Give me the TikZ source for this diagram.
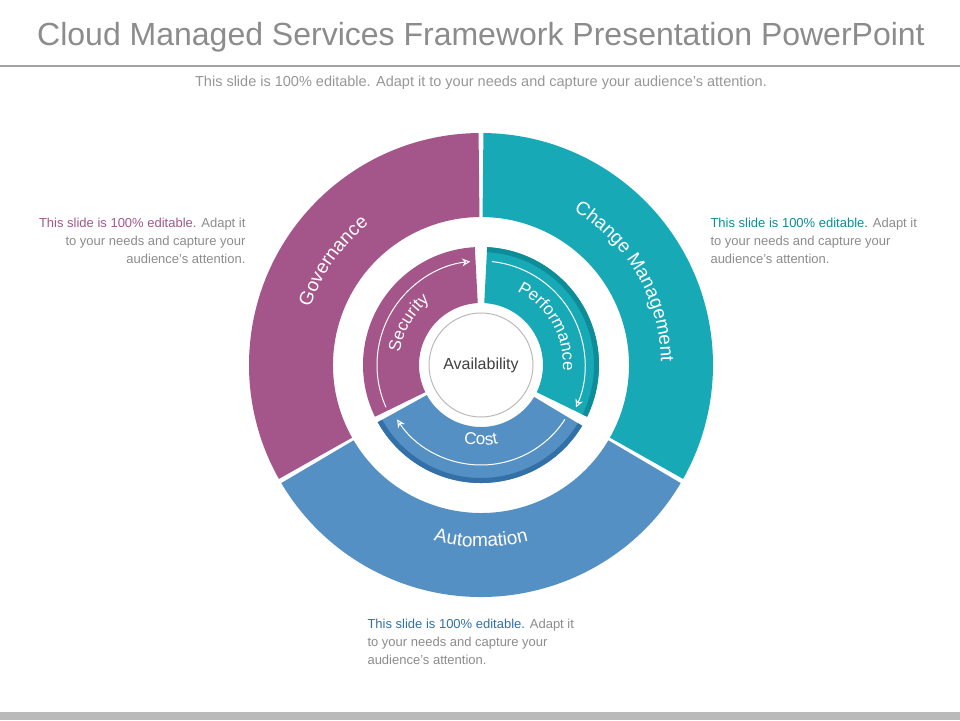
\documentclass[tikz,border=0pt]{standalone}
\usepackage{fontspec}
\setmainfont{Liberation Sans}
\usetikzlibrary{decorations.text, arrows.meta}
\definecolor{govc}{HTML}{A4568A}
\definecolor{chgc}{HTML}{17A9B6}
\definecolor{autc}{HTML}{5590C4}
\definecolor{govd}{HTML}{8E3F73}
\definecolor{chgd}{HTML}{0E8C98}
\definecolor{autd}{HTML}{3470A8}
\definecolor{txtc}{HTML}{8C8C8C}
\tikzset{
  side/.style={font=\fontsize{13}{18}\selectfont, text=txtc, align=#1},
  arrowarc/.style={white, line width=1pt, -{Stealth[length=8pt, width=8pt, open]}}
}
\newcommand\ringseg[5]{\fill[#1] (#2:#4) arc (#2:#3:#4) -- (#3:#5) arc (#3:#2:#5) -- cycle;}
\begin{document}
\begin{tikzpicture}[x=1pt, y=1pt]
  \useasboundingbox[fill=white] (-481,-355) rectangle (479,365);
  % title
  \node[font=\fontsize{32}{33}\selectfont, text=txtc] (title) at (0,328) {Cloud Managed Services Framework Presentation PowerPoint};
  \draw[txtc!80, line width=1.5pt] (-481,299) -- (479,299);
  \node[font=\fontsize{14.5}{16}\selectfont, text=txtc!90] (sub) at (0,282) {This slide is 100\% editable. Adapt it to your needs and capture your audience’s attention.};
  \fill[txtc!60] (-481,-347) rectangle (479,-355);
  % outer ring
  \ringseg{govc}{90.6}{209.4}{232}{148}
  \ringseg{chgc}{89.4}{-29.4}{232}{148}
  \ringseg{autc}{-30.6}{-149.4}{232}{148}
  \path[postaction={decorate, decoration={text along path, text align=center,
    text={|\fontsize{19}{19}\selectfont\color{white}|Governance}}}] (205:180) arc (205:85:180);
  \path[postaction={decorate, decoration={text along path, text align=center,
    text={|\fontsize{19}{19}\selectfont\color{white}|Change Management}}}] (95:180) arc (95:-35:180);
  \path[postaction={decorate, decoration={text along path, text align=center,
    text={|\fontsize{19}{19}\selectfont\color{white}|Automation}}}] (235:182) arc (235:305:182);
  % inner ring
  \ringseg{govc}{93}{206}{118}{62}
  \ringseg{chgc}{87}{-26}{118}{62}
  \ringseg{autc}{-31}{-151}{118}{62}
  \draw[chgd, line width=5pt] (87:115.5) arc (87:-26:115.5);
  \draw[autd, line width=5pt] (-31:115.5) arc (-31:-151:115.5);
  \draw[arrowarc] (204:104) arc (204:96:104);
  \draw[arrowarc] (84:104) arc (84:-24:104);
  \draw[arrowarc] (-33:100) arc (-33:-147:100);
  \path[postaction={decorate, decoration={text along path, text align=center,
    text={|\fontsize{17}{17}\selectfont\color{white}|Security}}}] (205:82) arc (205:95:82);
  \path[postaction={decorate, decoration={text along path, text align=center,
    text={|\fontsize{17}{17}\selectfont\color{white}|Performance}}}] (92:82) arc (92:-32:82);
  \path[postaction={decorate, decoration={text along path, text align=center,
    text={|\fontsize{17}{17}\selectfont\color{white}|Cost}}}] (240:80) arc (240:300:80);
  % centre
  \node[circle, draw=txtc!60, line width=1pt, fill=white, minimum size=104pt,
        font=\fontsize{16}{16}\selectfont, text=black!75] (avail) at (0,0) {Availability};
  % side texts
  \node[side=right, anchor=north east] (lefttxt) at (-232,150)
    {\textcolor{govc}{This slide is 100\% editable.} Adapt it\\ to your needs and capture your\\ audience’s attention.};
  \node[side=left, anchor=north west] (righttxt) at (226,150)
    {\textcolor{chgd}{This slide is 100\% editable.} Adapt it\\ to your needs and capture your\\ audience’s attention.};
  \node[side=left, anchor=north west] (bottxt) at (-117,-251)
    {\textcolor{autd}{This slide is 100\% editable.} Adapt it\\ to your needs and capture your\\ audience’s attention.};
\end{tikzpicture}
\end{document}
